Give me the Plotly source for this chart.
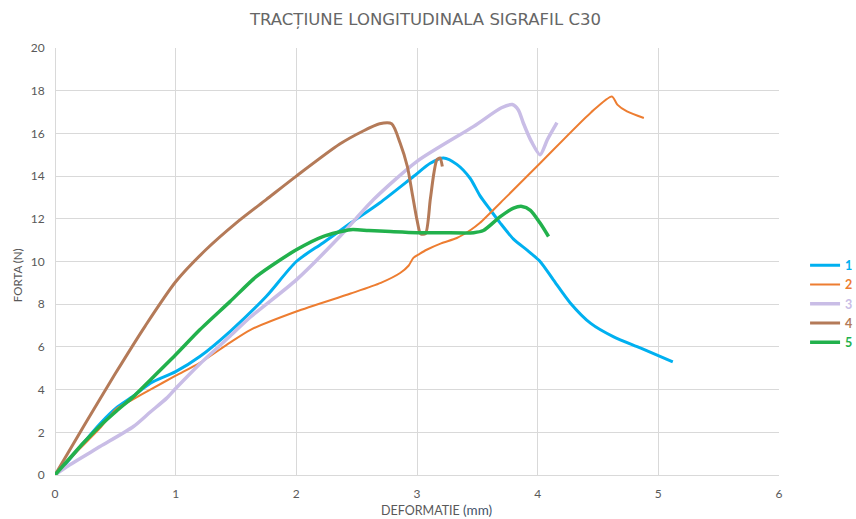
import plotly.graph_objects as go

# ---- data ----
x1 = [0, 0.1, 0.235, 0.373, 0.51, 0.65, 0.79, 1.0, 1.2, 1.45, 1.75, 2.0, 2.22, 2.45, 2.69, 2.97, 3.11, 3.22, 3.33, 3.44, 3.52, 3.61, 3.69, 3.80, 3.92, 4.02, 4.13, 4.27, 4.44, 4.63, 4.85, 5.12]
y1 = [0, 0.6, 1.5, 2.4, 3.15, 3.7, 4.3, 4.84, 5.55, 6.72, 8.36, 10.0, 10.87, 11.8, 12.74, 13.98, 14.6, 14.85, 14.55, 13.9, 13.1, 12.4, 11.8, 11.05, 10.5, 10.0, 9.14, 8.06, 7.1, 6.47, 5.95, 5.3]

x2 = [0, 0.2, 0.373, 0.51, 0.65, 0.79, 1.0, 1.2, 1.45, 1.62, 2.0, 2.45, 2.7, 2.86, 2.93, 2.97, 3.02, 3.08, 3.2, 3.33, 3.45, 3.52, 3.745, 4.02, 4.44, 4.615, 4.66, 4.74, 4.88]
y2 = [0, 1.2, 2.2, 3.1, 3.55, 4.0, 4.65, 5.25, 6.2, 6.8, 7.66, 8.5, 9.0, 9.46, 9.8, 10.17, 10.35, 10.55, 10.85, 11.1, 11.5, 11.8, 13.05, 14.6, 16.97, 17.73, 17.35, 17.03, 16.72]

x3 = [0, 0.097, 0.373, 0.65, 0.79, 0.926, 1.0, 1.2, 1.45, 1.62, 2.0, 2.36, 2.64, 3.0, 3.47, 3.7, 3.79, 3.84, 3.88, 3.95, 4.02, 4.08, 4.16]
y3 = [0, 0.39, 1.33, 2.27, 2.95, 3.6, 4.05, 5.2, 6.5, 7.4, 9.14, 11.17, 12.9, 14.69, 16.33, 17.2, 17.35, 17.1, 16.5, 15.6, 15.0, 15.7, 16.5]

x4 = [0, 0.25, 0.5, 0.75, 1.0, 1.25, 1.5, 1.75, 2.0, 2.36, 2.55, 2.69, 2.79, 2.86, 2.92, 2.96, 3.0, 3.03, 3.07, 3.11, 3.14, 3.165, 3.19, 3.21]
y4 = [0, 2.4, 4.75, 7.0, 9.05, 10.55, 11.8, 12.9, 14.0, 15.5, 16.1, 16.45, 16.45, 15.55, 14.45, 13.2, 11.95, 11.3, 11.3, 12.9, 14.14, 14.77, 14.85, 14.45]

x5 = [0, 0.235, 0.373, 0.51, 0.65, 0.79, 1.0, 1.2, 1.45, 1.67, 2.0, 2.22, 2.45, 2.6, 2.78, 3.0, 3.2, 3.47, 3.55, 3.69, 3.8, 3.87, 3.94, 4.02, 4.09]
y5 = [0, 1.5, 2.3, 3.0, 3.67, 4.45, 5.63, 6.8, 8.12, 9.3, 10.55, 11.17, 11.49, 11.45, 11.4, 11.35, 11.35, 11.35, 11.45, 12.1, 12.5, 12.58, 12.4, 11.8, 11.17]

names = ["1", "2", "3", "4", "5"]
colors = ["#00B0F0", "#ED7D31", "#C9BDE6", "#B47A58", "#22B14C"]
widths = [3, 2, 3.5, 3, 3.5]
xs = [x1, x2, x3, x4, x5]
ys = [y1, y2, y3, y4, y5]

x_ticks = [0, 1, 2, 3, 4, 5, 6]
y_ticks = [0, 2, 4, 6, 8, 10, 12, 14, 16, 18, 20]

title_text = "TRACȚIUNE LONGITUDINALA SIGRAFIL C30"
x_title = "DEFORMATIE <span style='color:#44546A;font-size:13.5px'>(mm)</span>"
y_title = "FORTA (N)"

fig = go.Figure()
for n, c, w, xx, yy in zip(names, colors, widths, xs, ys):
    fig.add_trace(go.Scatter(
        x=xx, y=yy, mode="lines",
        name=f"<b><span style='color:{c}'>{n}</span></b>",
        line=dict(color=c, width=w, shape="spline", smoothing=0.7),
    ))

grid = "#D9D9D9"
tickfont = dict(family="Lato, Open Sans, sans-serif", size=12, color="#595959")
labfont = dict(family="Lato, Open Sans, sans-serif", size=12.5, color="#595959")

fig.update_layout(
    width=856, height=519,
    paper_bgcolor="white", plot_bgcolor="white",
    margin=dict(l=55, r=77, t=48, b=44, autoexpand=False),
    title=dict(
        text=title_text,
        x=0.497, xanchor="center", y=0.963, yanchor="middle",
        font=dict(family="DejaVu Sans, sans-serif", size=16.5, color="#666666"),
    ),
    xaxis=dict(
        range=[0, 6], tickvals=x_ticks, showgrid=True, gridcolor=grid, gridwidth=1,
        zeroline=True, zerolinecolor=grid, zerolinewidth=1, automargin=False,
        showline=False, ticks="outside", ticklen=8, tickcolor="rgba(0,0,0,0)",
        tickfont=tickfont,
    ),
    yaxis=dict(
        range=[0, 20], tickvals=y_ticks, showgrid=True, gridcolor=grid, gridwidth=1,
        zeroline=True, zerolinecolor=grid, zerolinewidth=1, automargin=False,
        showline=False, ticks="outside", ticklen=7, tickcolor="rgba(0,0,0,0)",
        tickfont=tickfont,
    ),
    legend=dict(
        x=1.036, xanchor="left", y=0.40, yanchor="middle",
        font=dict(family="Lato, Open Sans, sans-serif", size=12.5),
        itemwidth=30, tracegroupgap=0, bgcolor="rgba(0,0,0,0)",
    ),
    showlegend=True,
    annotations=[
        dict(text=x_title, xref="paper", yref="paper", x=0.5276, y=-0.081,
             xanchor="center", yanchor="middle", showarrow=False, font=labfont),
        dict(text=y_title, xref="paper", yref="paper", x=-0.0525, y=0.468,
             xanchor="center", yanchor="middle", textangle=-90, showarrow=False,
             font=dict(family="Lato, Open Sans, sans-serif", size=11.5, color="#595959")),
    ],
)

fig.write_html("out.html")
